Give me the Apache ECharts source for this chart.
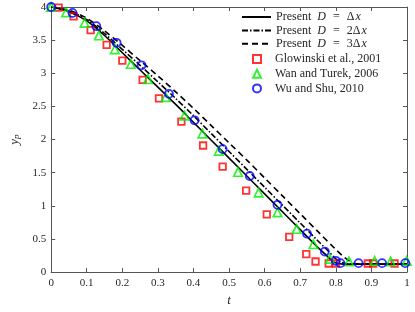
<!DOCTYPE html>
<html>
<head>
<meta charset="utf-8">
<script src="https://cdn.jsdelivr.net/npm/echarts@6/dist/echarts.min.js"></script>
<style>
html,body{margin:0;padding:0;background:#fff;}
#chart{width:415px;height:312px;}
</style>
</head>
<body>
<div id="chart"></div>
<script>
// ---- data ----
var xTicks = [0, 0.1, 0.2, 0.3, 0.4, 0.5, 0.6, 0.7, 0.8, 0.9, 1];
var yTicks = [0, 0.5, 1, 1.5, 2, 2.5, 3, 3.5, 4];

var solidT = [0, 0.05, 0.1, 0.15, 0.2, 0.25, 0.3, 0.35, 0.4, 0.45, 0.5, 0.55, 0.6, 0.65, 0.7, 0.75, 0.77, 0.79, 0.8, 0.82, 0.85, 0.9, 0.95, 1.0];
var solidY = [4.0, 3.93, 3.79, 3.57, 3.31, 3.05, 2.79, 2.53, 2.26, 1.99, 1.72, 1.45, 1.18, 0.91, 0.64, 0.37, 0.27, 0.17, 0.14, 0.12, 0.12, 0.12, 0.12, 0.12];

var dashDotT = [0, 0.05, 0.1, 0.15, 0.2, 0.25, 0.3, 0.35, 0.4, 0.45, 0.5, 0.55, 0.6, 0.65, 0.7, 0.75, 0.78, 0.8, 0.81, 0.83, 0.86, 1.0];
var dashDotY = [4.0, 3.94, 3.81, 3.60, 3.36, 3.12, 2.87, 2.62, 2.36, 2.09, 1.82, 1.55, 1.28, 1.01, 0.74, 0.47, 0.31, 0.20, 0.16, 0.125, 0.12, 0.12];

var dashedT = [0, 0.05, 0.1, 0.15, 0.2, 0.25, 0.3, 0.35, 0.4, 0.45, 0.5, 0.55, 0.6, 0.65, 0.7, 0.75, 0.8, 0.82, 0.84, 0.85, 0.87, 1.0];
var dashedY = [4.0, 3.95, 3.83, 3.64, 3.42, 3.19, 2.96, 2.72, 2.47, 2.21, 1.95, 1.69, 1.42, 1.15, 0.88, 0.61, 0.34, 0.24, 0.16, 0.13, 0.12, 0.12];

var glowT = [0.021, 0.063, 0.111, 0.156, 0.2, 0.257, 0.303, 0.366, 0.427, 0.482, 0.548, 0.606, 0.669, 0.717, 0.743, 0.78, 0.80, 0.89, 0.905, 0.965];
var glowY = [3.99, 3.86, 3.65, 3.43, 3.19, 2.90, 2.62, 2.27, 1.91, 1.59, 1.23, 0.87, 0.53, 0.27, 0.16, 0.13, 0.13, 0.13, 0.13, 0.13];

var wanT = [0, 0.042, 0.094, 0.134, 0.179, 0.224, 0.272, 0.322, 0.375, 0.425, 0.471, 0.525, 0.583, 0.636, 0.69, 0.737, 0.783, 0.837, 0.909, 0.954, 0.999];
var wanY = [4.0, 3.92, 3.76, 3.57, 3.36, 3.14, 2.91, 2.64, 2.36, 2.09, 1.83, 1.51, 1.20, 0.90, 0.65, 0.42, 0.20, 0.16, 0.17, 0.16, 0.17];

var wuT = [0, 0.06, 0.127, 0.184, 0.254, 0.331, 0.403, 0.482, 0.558, 0.636, 0.719, 0.769, 0.8, 0.813, 0.864, 0.93, 0.995];
var wuY = [4.0, 3.91, 3.71, 3.46, 3.12, 2.69, 2.29, 1.855, 1.45, 1.015, 0.58, 0.31, 0.17, 0.135, 0.135, 0.135, 0.135];

function zip(a, b) { return a.map(function (v, i) { return [v, b[i]]; }); }

var serif = 'Liberation Serif';
var axisCol = '#555555';
var txtCol = '#262626';

var chart = echarts.init(document.getElementById('chart'), null, {renderer: 'canvas'});

var legendRich = {
  n: {fontFamily: serif, fontSize: 12, color: txtCol, lineHeight: 12},
  i: {fontFamily: serif, fontSize: 12, color: txtCol, fontStyle: 'italic', lineHeight: 12, padding: [0, 0, 0, 1]},
  d: {fontFamily: serif, fontSize: 12, color: txtCol, fontStyle: 'italic', lineHeight: 12, padding: [0, 0, 0, 6]},
  eq: {fontFamily: serif, fontSize: 12, color: txtCol, lineHeight: 12, padding: [0, 7, 0, 7]}
};

function baseX(pos, showLabels) {
  return {
    type: 'value', position: pos, min: 0, max: 1, interval: 0.1,
    axisLine: {show: true, onZero: false, lineStyle: {color: axisCol, width: 1}},
    axisTick: {show: true, inside: true, length: 4, lineStyle: {color: axisCol}},
    axisLabel: {show: showLabels, margin: 6, fontFamily: serif, fontSize: 11, color: txtCol,
      formatter: function (v) { return String(Math.round(v * 10) / 10); }},
    splitLine: {show: false}
  };
}
function baseY(pos, showLabels) {
  return {
    type: 'value', position: pos, min: 0, max: 4, interval: 0.5,
    axisLine: {show: true, onZero: false, lineStyle: {color: axisCol, width: 1}},
    axisTick: {show: true, inside: true, length: 4, lineStyle: {color: axisCol}},
    axisLabel: {show: showLabels, margin: 5, fontFamily: serif, fontSize: 11, color: txtCol},
    splitLine: {show: false}
  };
}

var xMain = baseX('bottom', true);
xMain.name = 't';
xMain.nameLocation = 'middle';
xMain.nameGap = 17;
xMain.nameTextStyle = {fontFamily: serif, fontSize: 13, fontStyle: 'italic', color: txtCol};

var yMain = baseY('left', true);
yMain.name = '{i|y}{s|p}';
yMain.nameLocation = 'middle';
yMain.nameGap = 12;
yMain.nameRotate = 90;
yMain.nameTextStyle = {
  rich: {
    i: {fontFamily: serif, fontSize: 13, fontStyle: 'italic', color: txtCol},
    s: {fontFamily: serif, fontSize: 9, fontStyle: 'italic', color: txtCol, padding: [5, 0, 0, 0]}
  }
};

var lineNames = ['p1', 'p2', 'p3'];
var markNames = ['Glowinski et al., 2001', 'Wan and Turek, 2006', 'Wu and Shu, 2010'];

var option = {
  animation: false,
  backgroundColor: '#ffffff',
  grid: {left: 38, right: 8, top: 7, bottom: 35, containLabel: false},
  xAxis: [xMain, baseX('top', false)],
  yAxis: [yMain, baseY('right', false)],
  legend: [{
    orient: 'vertical', left: 236, top: 6,
    itemWidth: 29, itemHeight: 10, itemGap: 1.4,
    selectedMode: false,
    textStyle: {fontFamily: serif, fontSize: 12, color: txtCol, rich: legendRich},
    formatter: function (name) {
      var k = name === 'p1' ? '' : (name === 'p2' ? '2' : '3');
      return '{n|Present}{d|D}{eq|=}{n|' + k + 'Δ}{i|x}';
    },
    data: lineNames
  }, {
    orient: 'vertical', left: 247, top: 48,
    itemWidth: 8, itemHeight: 8, itemGap: 2.7,
    selectedMode: false,
    textStyle: {fontFamily: serif, fontSize: 12, color: txtCol, rich: legendRich, padding: [0, 0, 0, 9]},
    formatter: function (name) { return '{n|' + name + '}'; },
    data: markNames
  }],
  series: [
    {name: 'p1', type: 'line', data: zip(solidT, solidY), showSymbol: false, symbol: 'none', smooth: 0.3,
      itemStyle: {color: 'rgba(0,0,0,0)', borderWidth: 0},
      lineStyle: {color: '#000', width: 1.6, type: 'solid'}, z: 2},
    {name: 'p2', type: 'line', data: zip(dashDotT, dashDotY), showSymbol: false, symbol: 'none', smooth: 0.3,
      itemStyle: {color: 'rgba(0,0,0,0)', borderWidth: 0},
      lineStyle: {color: '#000', width: 1.6, type: [6, 2, 1.5, 2]}, z: 2},
    {name: 'p3', type: 'line', data: zip(dashedT, dashedY), showSymbol: false, symbol: 'none', smooth: 0.3,
      itemStyle: {color: 'rgba(0,0,0,0)', borderWidth: 0},
      lineStyle: {color: '#000', width: 1.6, type: [6, 4]}, z: 2},
    {name: markNames[0], type: 'scatter', data: zip(glowT, glowY), symbol: 'rect', symbolSize: 6.5, clip: false,
      itemStyle: {color: 'rgba(255,255,255,0)', borderColor: '#ff0000', borderWidth: 1.8}, z: 3},
    {name: markNames[1], type: 'scatter', data: zip(wanT, wanY), symbol: 'triangle', symbolSize: 8.5, clip: false,
      itemStyle: {color: 'rgba(255,255,255,0)', borderColor: '#00ee00', borderWidth: 1.7}, z: 3},
    {name: markNames[2], type: 'scatter', data: zip(wuT, wuY), symbol: 'circle', symbolSize: 8, clip: false,
      itemStyle: {color: 'rgba(255,255,255,0)', borderColor: '#0000ff', borderWidth: 1.8}, z: 3}
  ]
};
chart.setOption(option);
</script>
</body>
</html>
